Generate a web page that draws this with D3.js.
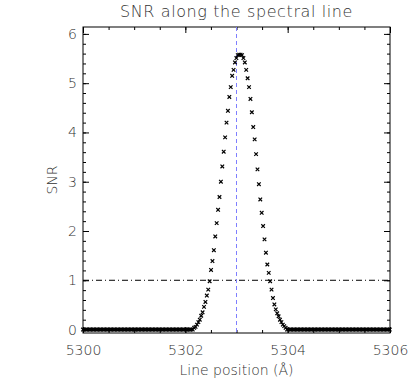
<!DOCTYPE html>
<html>
<head>
<meta charset="utf-8">
<script src="https://cdn.jsdelivr.net/npm/d3@7"></script>
<style>
  body { margin: 0; background: #fff; }
  text { font-family: "DejaVu Sans", sans-serif; font-weight: 200; fill: #333; }
</style>
</head>
<body>
<div id="chart"></div>
<script>
// wavelength sampling of the spectrum (Å)
var lambdaStart = 5300.0;
var lambdaStep = 0.0275;

// SNR per spectral sample
var snr = [
  0,0,0,0,0,0,0,0,0,0, 0,0,0,0,0,0,0,0,0,0,
  0,0,0,0,0,0,0,0,0,0, 0,0,0,0,0,0,0,0,0,0,
  0,0,0,0,0,0,0,0,0,0, 0,0,0,0,0,0,0,0,0,0,
  0,0,0,0,0,0,0,0,0,0, 0,0,0,0,0,0,0,0,
  0.00,0.035,0.055,0.10,0.15,0.20,0.28,0.35,0.46,0.56,
  0.69,0.81,0.98,1.21,1.39,1.61,1.89,2.16,2.43,2.69,
  3.00,3.31,3.61,3.90,4.20,4.44,4.72,4.92,5.15,5.27,
  5.42,5.51,5.57,5.58,5.58,5.57,5.51,5.42,5.27,5.10,
  4.92,4.68,4.41,4.11,3.86,3.56,3.25,2.95,2.64,2.37,
  2.10,1.83,1.56,1.32,1.15,0.98,0.81,0.64,0.51,0.41,
  0.33,0.27,0.20,0.15,0.10,0.07,0.035,0.00,
  0,0,0,0,0,0,0,0,0,0, 0,0,0,0,0,0,0,0,0,0,
  0,0,0,0,0,0,0,0,0,0, 0,0,0,0,0,0,0,0,0,0,
  0,0,0,0,0,0,0,0,0,0, 0,0,0,0,0,0,0,0,0,0,
  0,0,0,0,0,0,0,0,0,0, 0,0,0
];

var xTicks = [5300, 5302, 5304, 5306];
var yTicks = [0, 1, 2, 3, 4, 5, 6];
var lineCentre = 5303.0;   // blue dashed marker
var snrLimit = 1;          // dash-dot threshold

var svgWidth = 415;
var svgHeight = 390;
var margin = { top: 27, right: 25, bottom: 57, left: 83 };
var width = svgWidth - margin.left - margin.right;
var height = svgHeight - margin.top - margin.bottom;

var data = snr.map(function (v, i) {
    return { lam: lambdaStart + i * lambdaStep, snr: v };
});

var svg = d3.select("#chart").append("svg")
    .attr("width", svgWidth)
    .attr("height", svgHeight);

var chartGroup = svg.append("g")
    .attr("transform", `translate(${margin.left}, ${margin.top})`);

var xScale = d3.scaleLinear().domain([5300, 5306]).range([0, width]);
var yScale = d3.scaleLinear().domain([-0.07, 6.14]).range([height, 0]);

var xMinor = d3.range(5300, 5306.01, 0.5);
var yMinor = d3.range(0, 6.01, 0.2);

function styleAxis(g) {
    g.select(".domain").remove();
    g.selectAll("line").attr("stroke", "#000");
    g.selectAll("text").attr("font-size", 14).attr("fill", "#333");
}

// bottom
chartGroup.append("g").attr("transform", `translate(0, ${height})`)
    .call(d3.axisBottom(xScale).tickValues(xMinor).tickSize(-3).tickFormat(""))
    .call(styleAxis);
chartGroup.append("g").attr("transform", `translate(0, ${height})`)
    .call(d3.axisBottom(xScale).tickValues(xTicks).tickSize(-6).tickPadding(12).tickFormat(d3.format("d")))
    .call(styleAxis);
// top
chartGroup.append("g")
    .call(d3.axisTop(xScale).tickValues(xMinor).tickSize(-3).tickFormat(""))
    .call(styleAxis);
chartGroup.append("g")
    .call(d3.axisTop(xScale).tickValues(xTicks).tickSize(-6).tickFormat(""))
    .call(styleAxis);
// left
chartGroup.append("g")
    .call(d3.axisLeft(yScale).tickValues(yMinor).tickSize(-3).tickFormat(""))
    .call(styleAxis);
chartGroup.append("g")
    .call(d3.axisLeft(yScale).tickValues(yTicks).tickSize(-6).tickPadding(6).tickFormat(d3.format("d")))
    .call(styleAxis);
// right
chartGroup.append("g").attr("transform", `translate(${width}, 0)`)
    .call(d3.axisRight(yScale).tickValues(yMinor).tickSize(-3).tickFormat(""))
    .call(styleAxis);
chartGroup.append("g").attr("transform", `translate(${width}, 0)`)
    .call(d3.axisRight(yScale).tickValues(yTicks).tickSize(-6).tickFormat(""))
    .call(styleAxis);

// frame
chartGroup.append("rect")
    .attr("width", width)
    .attr("height", height)
    .attr("fill", "none")
    .attr("stroke", "#000")
    .attr("stroke-width", 1);

// threshold line
chartGroup.append("line")
    .attr("x1", 0).attr("x2", width)
    .attr("y1", yScale(snrLimit)).attr("y2", yScale(snrLimit))
    .attr("stroke", "#000")
    .attr("stroke-width", 1)
    .attr("stroke-dasharray", "6,3,1,3");

// line centre
chartGroup.append("line")
    .attr("x1", xScale(lineCentre)).attr("x2", xScale(lineCentre))
    .attr("y1", 0).attr("y2", height)
    .attr("stroke", "#7f7fff")
    .attr("stroke-width", 1)
    .attr("stroke-dasharray", "4,3");

// points
var sym = d3.symbol().type(d3.symbolTimes).size(10);
chartGroup.selectAll("path.pt")
    .data(data)
    .enter()
    .append("path")
    .attr("class", "pt")
    .attr("d", sym)
    .attr("transform", d => `translate(${xScale(d.lam)}, ${yScale(d.snr)})`)
    .attr("fill", "none")
    .attr("stroke", "#000")
    .attr("stroke-width", 1.2);

// labels
svg.append("text")
    .attr("x", margin.left + width / 2)
    .attr("y", 17)
    .attr("text-anchor", "middle")
    .attr("font-size", 16)
    .attr("letter-spacing", 0.6)
    .text("SNR along the spectral line");

svg.append("text")
    .attr("x", margin.left + width / 2)
    .attr("y", 375)
    .attr("text-anchor", "middle")
    .attr("font-size", 14)
    .text("Line position (Å)");

svg.append("text")
    .attr("transform", `translate(57, ${margin.top + height / 2}) rotate(-90)`)
    .attr("text-anchor", "middle")
    .attr("font-size", 14)
    .text("SNR");
</script>
</body>
</html>
